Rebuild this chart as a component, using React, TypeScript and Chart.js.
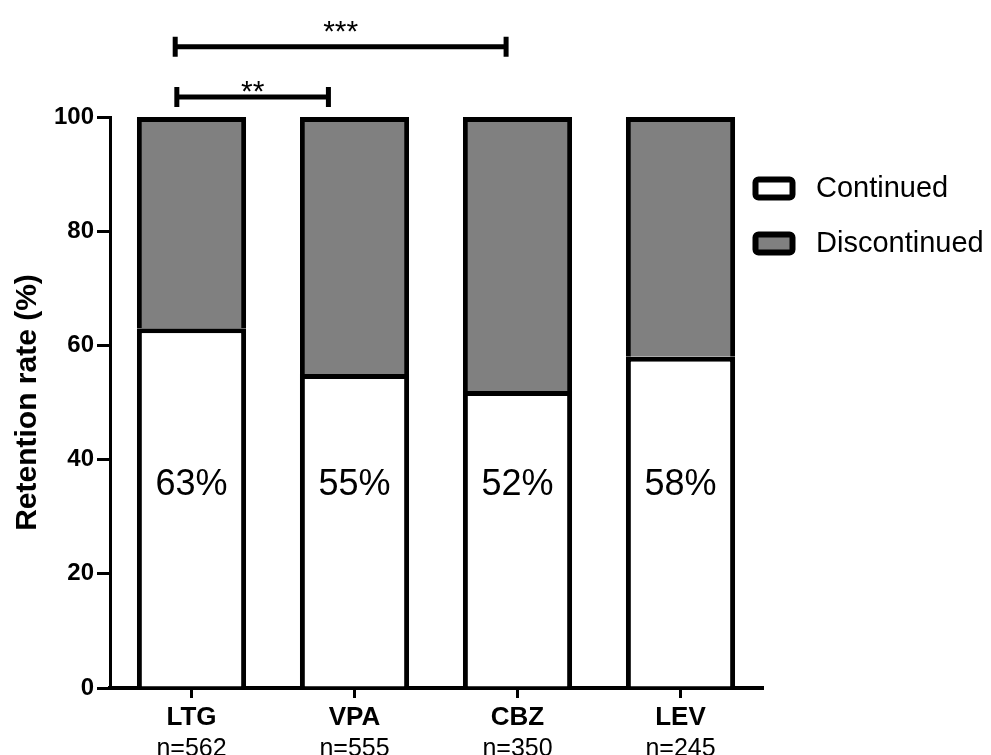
import React, { useEffect, useRef } from "react";
import { Chart, registerables } from "chart.js";

Chart.register(...registerables);

// Drug groups and their sample sizes
const categories = ["LTG", "VPA", "CBZ", "LEV"];
const sampleSizes = ["n=562", "n=555", "n=350", "n=245"];

// Retention (%) split into patients who stayed on / came off treatment
const continued = [63, 55, 52, 58];
const discontinued = [37, 45, 48, 42];

// Pairwise significance brackets (x in category units, y in %)
const comparisonLabels = ["**", "***"];
const comparisonFrom = [-0.09, -0.1];
const comparisonTo = [0.84, 1.93];
const comparisonLevel = [103.5, 112.3];

const FONT = '"Liberation Sans", Arial, Helvetica, sans-serif';
const GREY = "#808080";
const PERCENT_LABEL_LEVEL = 35.5;
const STAR_RAISE = [0, 10];

const annotations = {
  id: "annotations",
  afterDraw(chart: any) {
    const { ctx } = chart;
    const x = chart.scales.x;
    const y = chart.scales.y;
    ctx.save();
    ctx.fillStyle = "#000";

    // percentage inside each "Continued" bar
    ctx.font = `36px ${FONT}`;
    ctx.textAlign = "center";
    ctx.textBaseline = "middle";
    continued.forEach((v, i) => {
      ctx.fillText(`${v}%`, x.getPixelForValue(i), y.getPixelForValue(PERCENT_LABEL_LEVEL));
    });

    // sample sizes under the category labels
    ctx.font = `25px ${FONT}`;
    ctx.textBaseline = "alphabetic";
    sampleSizes.forEach((s, i) => {
      ctx.fillText(s, x.getPixelForTick(i), 756);
    });

    // significance brackets
    ctx.strokeStyle = "#000";
    ctx.lineWidth = 5;
    ctx.lineCap = "butt";
    comparisonLabels.forEach((lab, i) => {
      const x1 = x.getPixelForValue(comparisonFrom[i]);
      const x2 = x.getPixelForValue(comparisonTo[i]);
      const yy = y.getPixelForValue(comparisonLevel[i]);
      ctx.beginPath();
      ctx.moveTo(x1, yy);
      ctx.lineTo(x2, yy);
      ctx.moveTo(x1, yy - 10);
      ctx.lineTo(x1, yy + 10);
      ctx.moveTo(x2, yy - 10);
      ctx.lineTo(x2, yy + 10);
      ctx.stroke();
      ctx.font = `30px ${FONT}`;
      ctx.textAlign = "center";
      ctx.textBaseline = "alphabetic";
      ctx.fillText(lab, (x1 + x2) / 2, yy + 4 - STAR_RAISE[i]);
    });

    // legend
    const items = chart.data.datasets;
    items.forEach((ds: any, i: number) => {
      const bx = 755.5;
      const by = 179.5 + i * 55;
      ctx.beginPath();
      ctx.roundRect(bx, by, 37, 18, 3);
      ctx.fillStyle = ds.backgroundColor;
      ctx.fill();
      ctx.lineWidth = 6;
      ctx.strokeStyle = "#000";
      ctx.stroke();
      ctx.fillStyle = "#000";
      ctx.font = `29px ${FONT}`;
      ctx.textAlign = "left";
      ctx.textBaseline = "middle";
      ctx.fillText(ds.label, 816, by + 9);
    });
    ctx.restore();
  },
};

function RetentionChart() {
  const ref = useRef<HTMLCanvasElement | null>(null);

  useEffect(() => {
    if (!ref.current) return;
    const chart = new Chart(ref.current, {
      type: "bar",
      data: {
        labels: categories,
        datasets: [
          {
            label: "Continued",
            data: continued,
            backgroundColor: "#ffffff",
            borderColor: "#000",
            borderWidth: 5,
            borderSkipped: "start",
            barPercentage: 0.67,
            categoryPercentage: 1,
          },
          {
            label: "Discontinued",
            data: discontinued,
            backgroundColor: GREY,
            borderColor: "#000",
            borderWidth: 5,
            borderSkipped: "start",
            barPercentage: 0.67,
            categoryPercentage: 1,
          },
        ],
      },
      options: {
        responsive: false,
        animation: false,
        layout: { padding: { left: 0, right: 229, top: 117, bottom: 0 } },
        plugins: {
          legend: { display: false },
          tooltip: { enabled: false },
        },
        scales: {
          x: {
            stacked: true,
            afterFit: (s: any) => {
              s.height = 67;
            },
            grid: {
              offset: false,
              drawOnChartArea: false,
              drawTicks: true,
              tickLength: 10,
              color: "#000",
              lineWidth: 3,
            },
            border: { display: true, color: "#000", width: 4 },
            ticks: {
              color: "#000",
              padding: 4,
              font: { family: FONT, size: 26, weight: "bold" },
            },
          },
          y: {
            stacked: true,
            min: 0,
            max: 100,
            afterFit: (s: any) => {
              s.width = 110;
            },
            grid: {
              drawOnChartArea: false,
              drawTicks: true,
              tickLength: 13,
              color: "#000",
              lineWidth: 3,
            },
            border: { display: true, color: "#000", width: 3 },
            ticks: {
              stepSize: 20,
              color: "#000",
              padding: 3,
              font: { family: FONT, size: 24, weight: "bold" },
            },
            title: {
              display: true,
              text: "Retention rate (%)",
              color: "#000",
              padding: { top: 10, bottom: 0 },
              font: { family: FONT, size: 30, weight: "bold" },
            },
          },
        },
      },
      plugins: [annotations],
    });
    return () => chart.destroy();
  }, []);

  return (
    <div style={{ position: "absolute", left: 0, top: 0, width: 991, height: 755, background: "#fff" }}>
      <canvas ref={ref} width={991} height={755} style={{ display: "block" }} />
    </div>
  );
}

export default function App() {
  return <RetentionChart />;
}
